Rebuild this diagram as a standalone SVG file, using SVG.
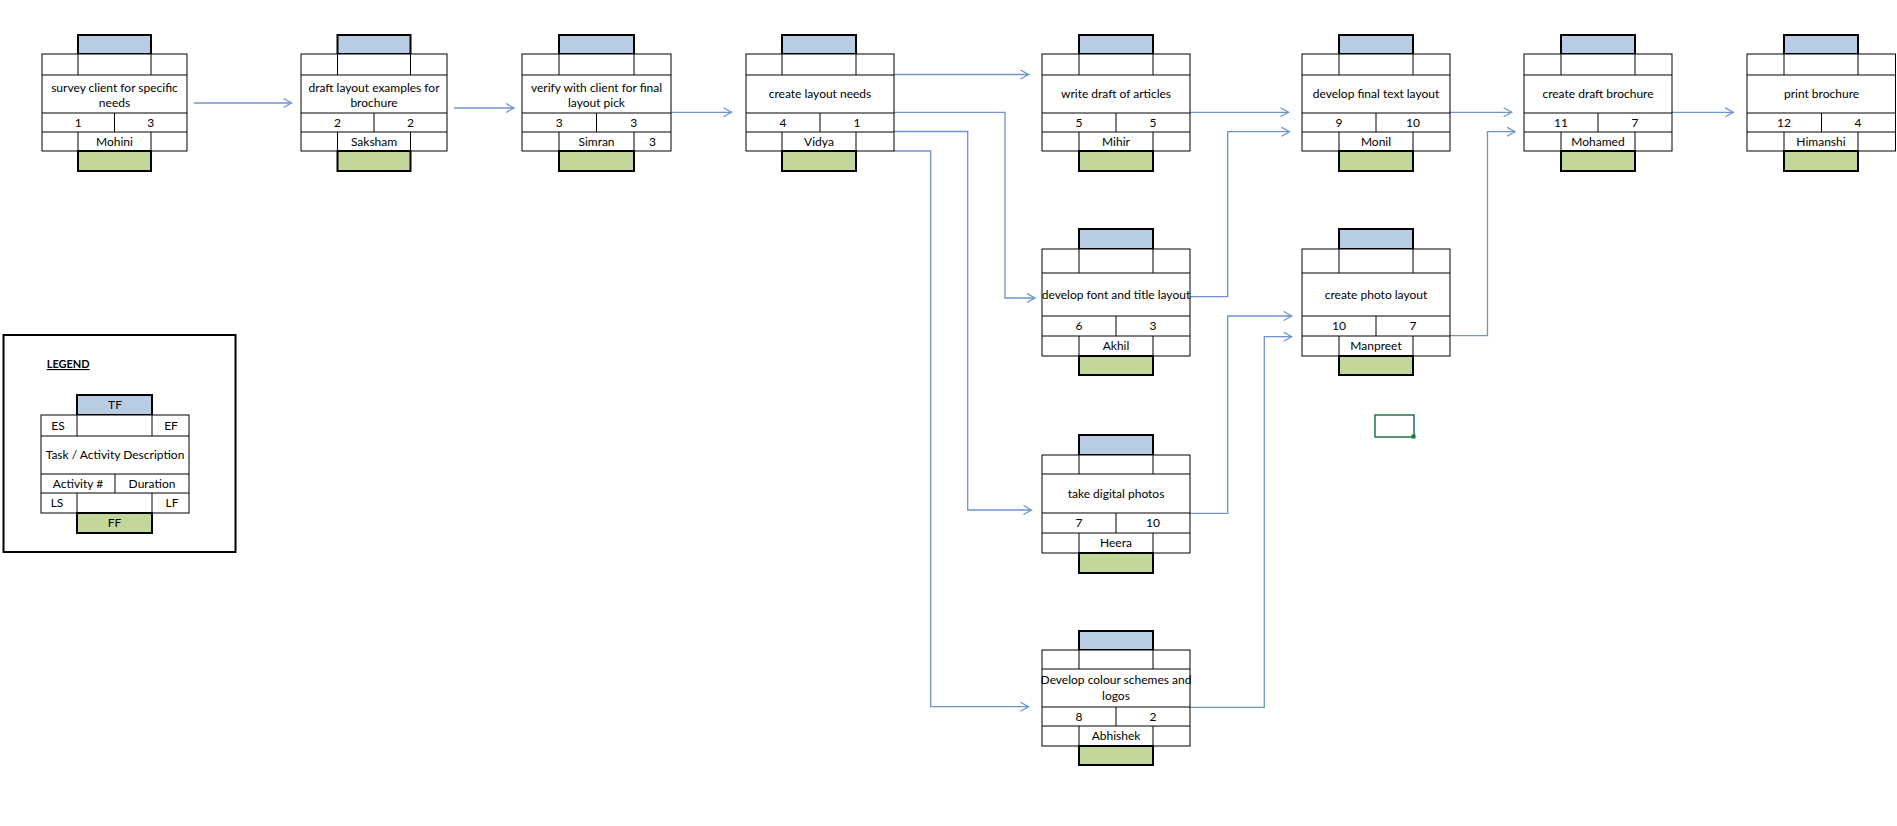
<svg xmlns="http://www.w3.org/2000/svg" width="1897" height="826" viewBox="0 0 1897 826">
<defs>
<style>
.box{fill:#fff;stroke:#000;stroke-width:1}
.ln{fill:none;stroke:#000;stroke-width:1}
.tf{fill:#B8CCE4;stroke:#000;stroke-width:2}
.ff{fill:#C4D79B;stroke:#000;stroke-width:2}
.t{font-family:Lato,"Liberation Sans",sans-serif;font-size:12px;fill:#000;text-anchor:middle}
.conn{fill:none;stroke:#6f93cf;stroke-width:1.3;marker-end:url(#arr)}
</style>
<marker id="arr" markerUnits="userSpaceOnUse" markerWidth="12" markerHeight="12" refX="8.5" refY="5" orient="auto">
<path d="M0.5,0.5 L8.5,5 L0.5,9.5" fill="none" stroke="#6f93cf" stroke-width="1.3"/>
</marker>
</defs>
<rect width="1897" height="826" fill="#fff"/>

<g id="connectors">
<path class="conn" d="M194,103H291.5"/>
<path class="conn" d="M454,108H514"/>
<path class="conn" d="M671,112.3H731.5"/>
<path class="conn" d="M894,74.5H1028.5"/>
<path class="conn" d="M894,112.3H1005V298H1035"/>
<path class="conn" d="M894,131.5H967.7V510H1031.5"/>
<path class="conn" d="M894,151H930.7V706.7H1028.5"/>
<path class="conn" d="M1190,112.3H1288.5"/>
<path class="conn" d="M1190,296.7H1227.7V131.7H1289.5"/>
<path class="conn" d="M1450,112.3H1511.7"/>
<path class="conn" d="M1450,335.7H1487.5V131.7H1515"/>
<path class="conn" d="M1672,112.3H1733.3"/>
<path class="conn" d="M1190,513.3H1227.7V316H1291.7"/>
<path class="conn" d="M1190,707.3H1264.3V336.7H1291.7"/>
</g>

<g id="n1">
<rect class="tf" x="78" y="35" width="73" height="19"/>
<rect class="box" x="42" y="54" width="145" height="97"/>
<path class="ln" d="M42,75H187M42,113H187M42,132H187M78,54V75M151,54V75M114.5,113V132M78,132V151M151,132V151"/>
<rect class="ff" x="78" y="151" width="73" height="20"/>
<text class="t" x="114.5" y="92">survey client for specific</text>
<text class="t" x="114.5" y="106.5">needs</text>
<text class="t" x="78.3" y="126.8">1</text>
<text class="t" x="150.8" y="126.8">3</text>
<text class="t" x="114.5" y="145.8">Mohini</text>
</g>

<g id="n2">
<rect class="tf" x="337.5" y="35" width="73" height="19"/>
<rect class="box" x="301" y="54" width="146" height="97"/>
<path class="ln" d="M301,75H447M301,113H447M301,132H447M337.5,54V75M410.5,54V75M374,113V132M337.5,132V151M410.5,132V151"/>
<rect class="ff" x="337.5" y="151" width="73" height="20"/>
<text class="t" x="374" y="92">draft layout examples for</text>
<text class="t" x="374" y="106.5">brochure</text>
<text class="t" x="337.5" y="126.8">2</text>
<text class="t" x="410.5" y="126.8">2</text>
<text class="t" x="374" y="145.8">Saksham</text>
</g>

<g id="n3">
<rect class="tf" x="559" y="35" width="75" height="19"/>
<rect class="box" x="522" y="54" width="149" height="97"/>
<path class="ln" d="M522,75H671M522,113H671M522,132H671M559,54V75M634,54V75M596.5,113V132M559,132V151M634,132V151"/>
<rect class="ff" x="559" y="151" width="75" height="20"/>
<text class="t" x="596.5" y="92">verify with client for final</text>
<text class="t" x="596.5" y="106.5">layout pick</text>
<text class="t" x="559.3" y="126.8">3</text>
<text class="t" x="633.8" y="126.8">3</text>
<text class="t" x="596.5" y="145.8">Simran</text>
<text class="t" x="652.5" y="145.8">3</text>
</g>

<g id="n4">
<rect class="tf" x="782" y="35" width="74" height="19"/>
<rect class="box" x="746" y="54" width="148" height="97"/>
<path class="ln" d="M746,75H894M746,113H894M746,132H894M782,54V75M856,54V75M820,113V132M782,132V151M856,132V151"/>
<rect class="ff" x="782" y="151" width="74" height="20"/>
<text class="t" x="820" y="98">create layout needs</text>
<text class="t" x="783" y="126.8">4</text>
<text class="t" x="857" y="126.8">1</text>
<text class="t" x="819" y="145.8">Vidya</text>
</g>

<g id="n5">
<rect class="tf" x="1079" y="35" width="74" height="19"/>
<rect class="box" x="1042" y="54" width="148" height="97"/>
<path class="ln" d="M1042,75H1190M1042,113H1190M1042,132H1190M1079,54V75M1153,54V75M1116,113V132M1079,132V151M1153,132V151"/>
<rect class="ff" x="1079" y="151" width="74" height="20"/>
<text class="t" x="1116" y="98">write draft of articles</text>
<text class="t" x="1079" y="126.8">5</text>
<text class="t" x="1153" y="126.8">5</text>
<text class="t" x="1116" y="145.8">Mihir</text>
</g>

<g id="n6">
<rect class="tf" x="1339" y="35" width="74" height="19"/>
<rect class="box" x="1302" y="54" width="148" height="97"/>
<path class="ln" d="M1302,75H1450M1302,113H1450M1302,132H1450M1339,54V75M1413,54V75M1376,113V132M1339,132V151M1413,132V151"/>
<rect class="ff" x="1339" y="151" width="74" height="20"/>
<text class="t" x="1376" y="98">develop final text layout</text>
<text class="t" x="1339" y="126.8">9</text>
<text class="t" x="1413" y="126.8">10</text>
<text class="t" x="1376" y="145.8">Monil</text>
</g>

<g id="n7">
<rect class="tf" x="1561" y="35" width="74" height="19"/>
<rect class="box" x="1524" y="54" width="148" height="97"/>
<path class="ln" d="M1524,75H1672M1524,113H1672M1524,132H1672M1561,54V75M1635,54V75M1598,113V132M1561,132V151M1635,132V151"/>
<rect class="ff" x="1561" y="151" width="74" height="20"/>
<text class="t" x="1598" y="98">create draft brochure</text>
<text class="t" x="1561" y="126.8">11</text>
<text class="t" x="1635" y="126.8">7</text>
<text class="t" x="1598" y="145.8">Mohamed</text>
</g>

<g id="n8">
<rect class="tf" x="1784" y="35" width="74" height="19"/>
<rect class="box" x="1747" y="54" width="148.5" height="97"/>
<path class="ln" d="M1747,75H1895.5M1747,113H1895.5M1747,132H1895.5M1784,54V75M1858,54V75M1821.5,113V132M1784,132V151M1858,132V151"/>
<rect class="ff" x="1784" y="151" width="74" height="20"/>
<text class="t" x="1821.5" y="98">print brochure</text>
<text class="t" x="1784" y="126.8">12</text>
<text class="t" x="1858" y="126.8">4</text>
<text class="t" x="1821" y="145.8">Himanshi</text>
</g>

<g id="n9">
<rect class="tf" x="1079" y="229" width="74" height="20"/>
<rect class="box" x="1042" y="249" width="148" height="107"/>
<path class="ln" d="M1042,273H1190M1042,316H1190M1042,336H1190M1079,249V273M1153,249V273M1116,316V336M1079,336V356M1153,336V356"/>
<rect class="ff" x="1079" y="356" width="74" height="19"/>
<text class="t" x="1116" y="298.5">develop font and title layout</text>
<text class="t" x="1079" y="330.3">6</text>
<text class="t" x="1153" y="330.3">3</text>
<text class="t" x="1116" y="350.3">Akhil</text>
</g>

<g id="n10">
<rect class="tf" x="1339" y="229" width="74" height="20"/>
<rect class="box" x="1302" y="249" width="148" height="107"/>
<path class="ln" d="M1302,273H1450M1302,316H1450M1302,336H1450M1339,249V273M1413,249V273M1376,316V336M1339,336V356M1413,336V356"/>
<rect class="ff" x="1339" y="356" width="74" height="19"/>
<text class="t" x="1376" y="298.5">create photo layout</text>
<text class="t" x="1339" y="330.3">10</text>
<text class="t" x="1413" y="330.3">7</text>
<text class="t" x="1376" y="350.3">Manpreet</text>
</g>

<g id="n11">
<rect class="tf" x="1079" y="435" width="74" height="20"/>
<rect class="box" x="1042" y="455" width="148" height="98"/>
<path class="ln" d="M1042,474H1190M1042,513H1190M1042,533H1190M1079,455V474M1153,455V474M1116,513V533M1079,533V553M1153,533V553"/>
<rect class="ff" x="1079" y="553" width="74" height="20"/>
<text class="t" x="1116" y="497.5">take digital photos</text>
<text class="t" x="1079" y="527.3">7</text>
<text class="t" x="1153" y="527.3">10</text>
<text class="t" x="1116" y="547.3">Heera</text>
</g>

<g id="n12">
<rect class="tf" x="1079" y="631" width="74" height="19"/>
<rect class="box" x="1042" y="650" width="148" height="96"/>
<path class="ln" d="M1042,669H1190M1042,707H1190M1042,726H1190M1079,650V669M1153,650V669M1116,707V726M1079,726V746M1153,726V746"/>
<rect class="ff" x="1079" y="746" width="74" height="19"/>
<text class="t" x="1116" y="683.5">Develop colour schemes and</text>
<text class="t" x="1116" y="700">logos</text>
<text class="t" x="1079" y="720.8">8</text>
<text class="t" x="1153" y="720.8">2</text>
<text class="t" x="1116" y="740.3">Abhishek</text>
</g>

<g id="legend">
<rect x="3.5" y="335" width="232" height="217" fill="#fff" stroke="#000" stroke-width="2"/>
<text x="46.7" y="368" font-family="Lato,'Liberation Sans',sans-serif" font-size="11" font-weight="bold" text-decoration="underline" fill="#000">LEGEND</text>
<rect class="tf" x="77" y="395" width="75" height="20"/>
<rect class="box" x="41" y="415" width="148" height="98"/>
<path class="ln" d="M41,436H189M41,474H189M41,493H189M77,415V436M152,415V436M115,474V493M77,493V513M152,493V513"/>
<rect class="ff" x="77" y="513" width="75" height="20"/>
<text class="t" x="115" y="409.3">TF</text>
<text class="t" x="58" y="429.8">ES</text>
<text class="t" x="171" y="429.8">EF</text>
<text class="t" x="115" y="459">Task / Activity Description</text>
<text class="t" x="78" y="487.8">Activity #</text>
<text class="t" x="152" y="487.8">Duration</text>
<text class="t" x="57" y="507.3">LS</text>
<text class="t" x="172" y="507.3">LF</text>
<text class="t" x="114.5" y="527.3">FF</text>
</g>

<g id="selection">
<rect x="1375" y="415" width="39" height="22" fill="none" stroke="#217346" stroke-width="1.5"/>
<rect x="1411.5" y="434.5" width="4" height="4" fill="#217346"/>
</g>
</svg>
